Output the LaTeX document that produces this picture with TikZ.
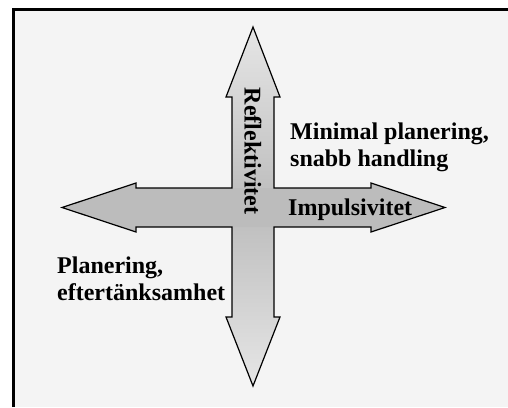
\documentclass[tikz,border=0pt]{standalone}
\usepackage{fontspec}
\setmainfont{Liberation Serif}
\definecolor{bgc}{HTML}{F4F4F4}
\definecolor{armc}{HTML}{BCBCBC}
\definecolor{tipc}{HTML}{E6E6E6}
\tikzset{
  lbl/.style={font=\bfseries\fontsize{24}{27}\selectfont, inner sep=0pt, text=black},
  outline/.style={draw=black, line width=1.2pt, line join=miter}
}
\begin{document}
\begin{tikzpicture}[x=1pt,y=-1pt]
\useasboundingbox (0,0) rectangle (508,407);
% background and frame
\fill[bgc] (12,8) rectangle (508,407);
\draw[line width=3pt] (13.5,407) -- (13.5,9.5) -- (508,9.5);
% vertical arrow with gradient
\shade[top color=tipc, bottom color=tipc, middle color=armc]
  (253,27) -- (280,97) -- (274,97) -- (274,317) -- (280,317) -- (253,386)
  -- (226,317) -- (232,317) -- (232,97) -- (226,97) -- cycle;
% horizontal arrow solid
\fill[armc]
  (62,207.5) -- (136,183) -- (136,188) -- (371,188) -- (371,183) -- (445,207.5)
  -- (371,232) -- (371,227) -- (136,227) -- (136,232) -- cycle;
% outline of the cross
\draw[outline]
  (253,27) -- (280,97) -- (274,97) -- (274,188) -- (371,188) -- (371,183)
  -- (445,207.5) -- (371,232) -- (371,227) -- (274,227) -- (274,317)
  -- (280,317) -- (253,386) -- (226,317) -- (232,317) -- (232,227)
  -- (136,227) -- (136,232) -- (62,207.5) -- (136,183) -- (136,188)
  -- (232,188) -- (232,97) -- (226,97) -- cycle;
% labels
\node[lbl, rotate=-90] (refl) at (253,151) {Reflektivitet};
\node[lbl, anchor=west] (impl) at (288,210) {Impulsivitet};
\node[lbl, align=left, anchor=west] (minp) at (290,147) {Minimal planering,\\snabb handling};
\node[lbl, align=left, anchor=west] (plan) at (57,279) {Planering,\\eftertänksamhet};
\end{tikzpicture}
\end{document}
